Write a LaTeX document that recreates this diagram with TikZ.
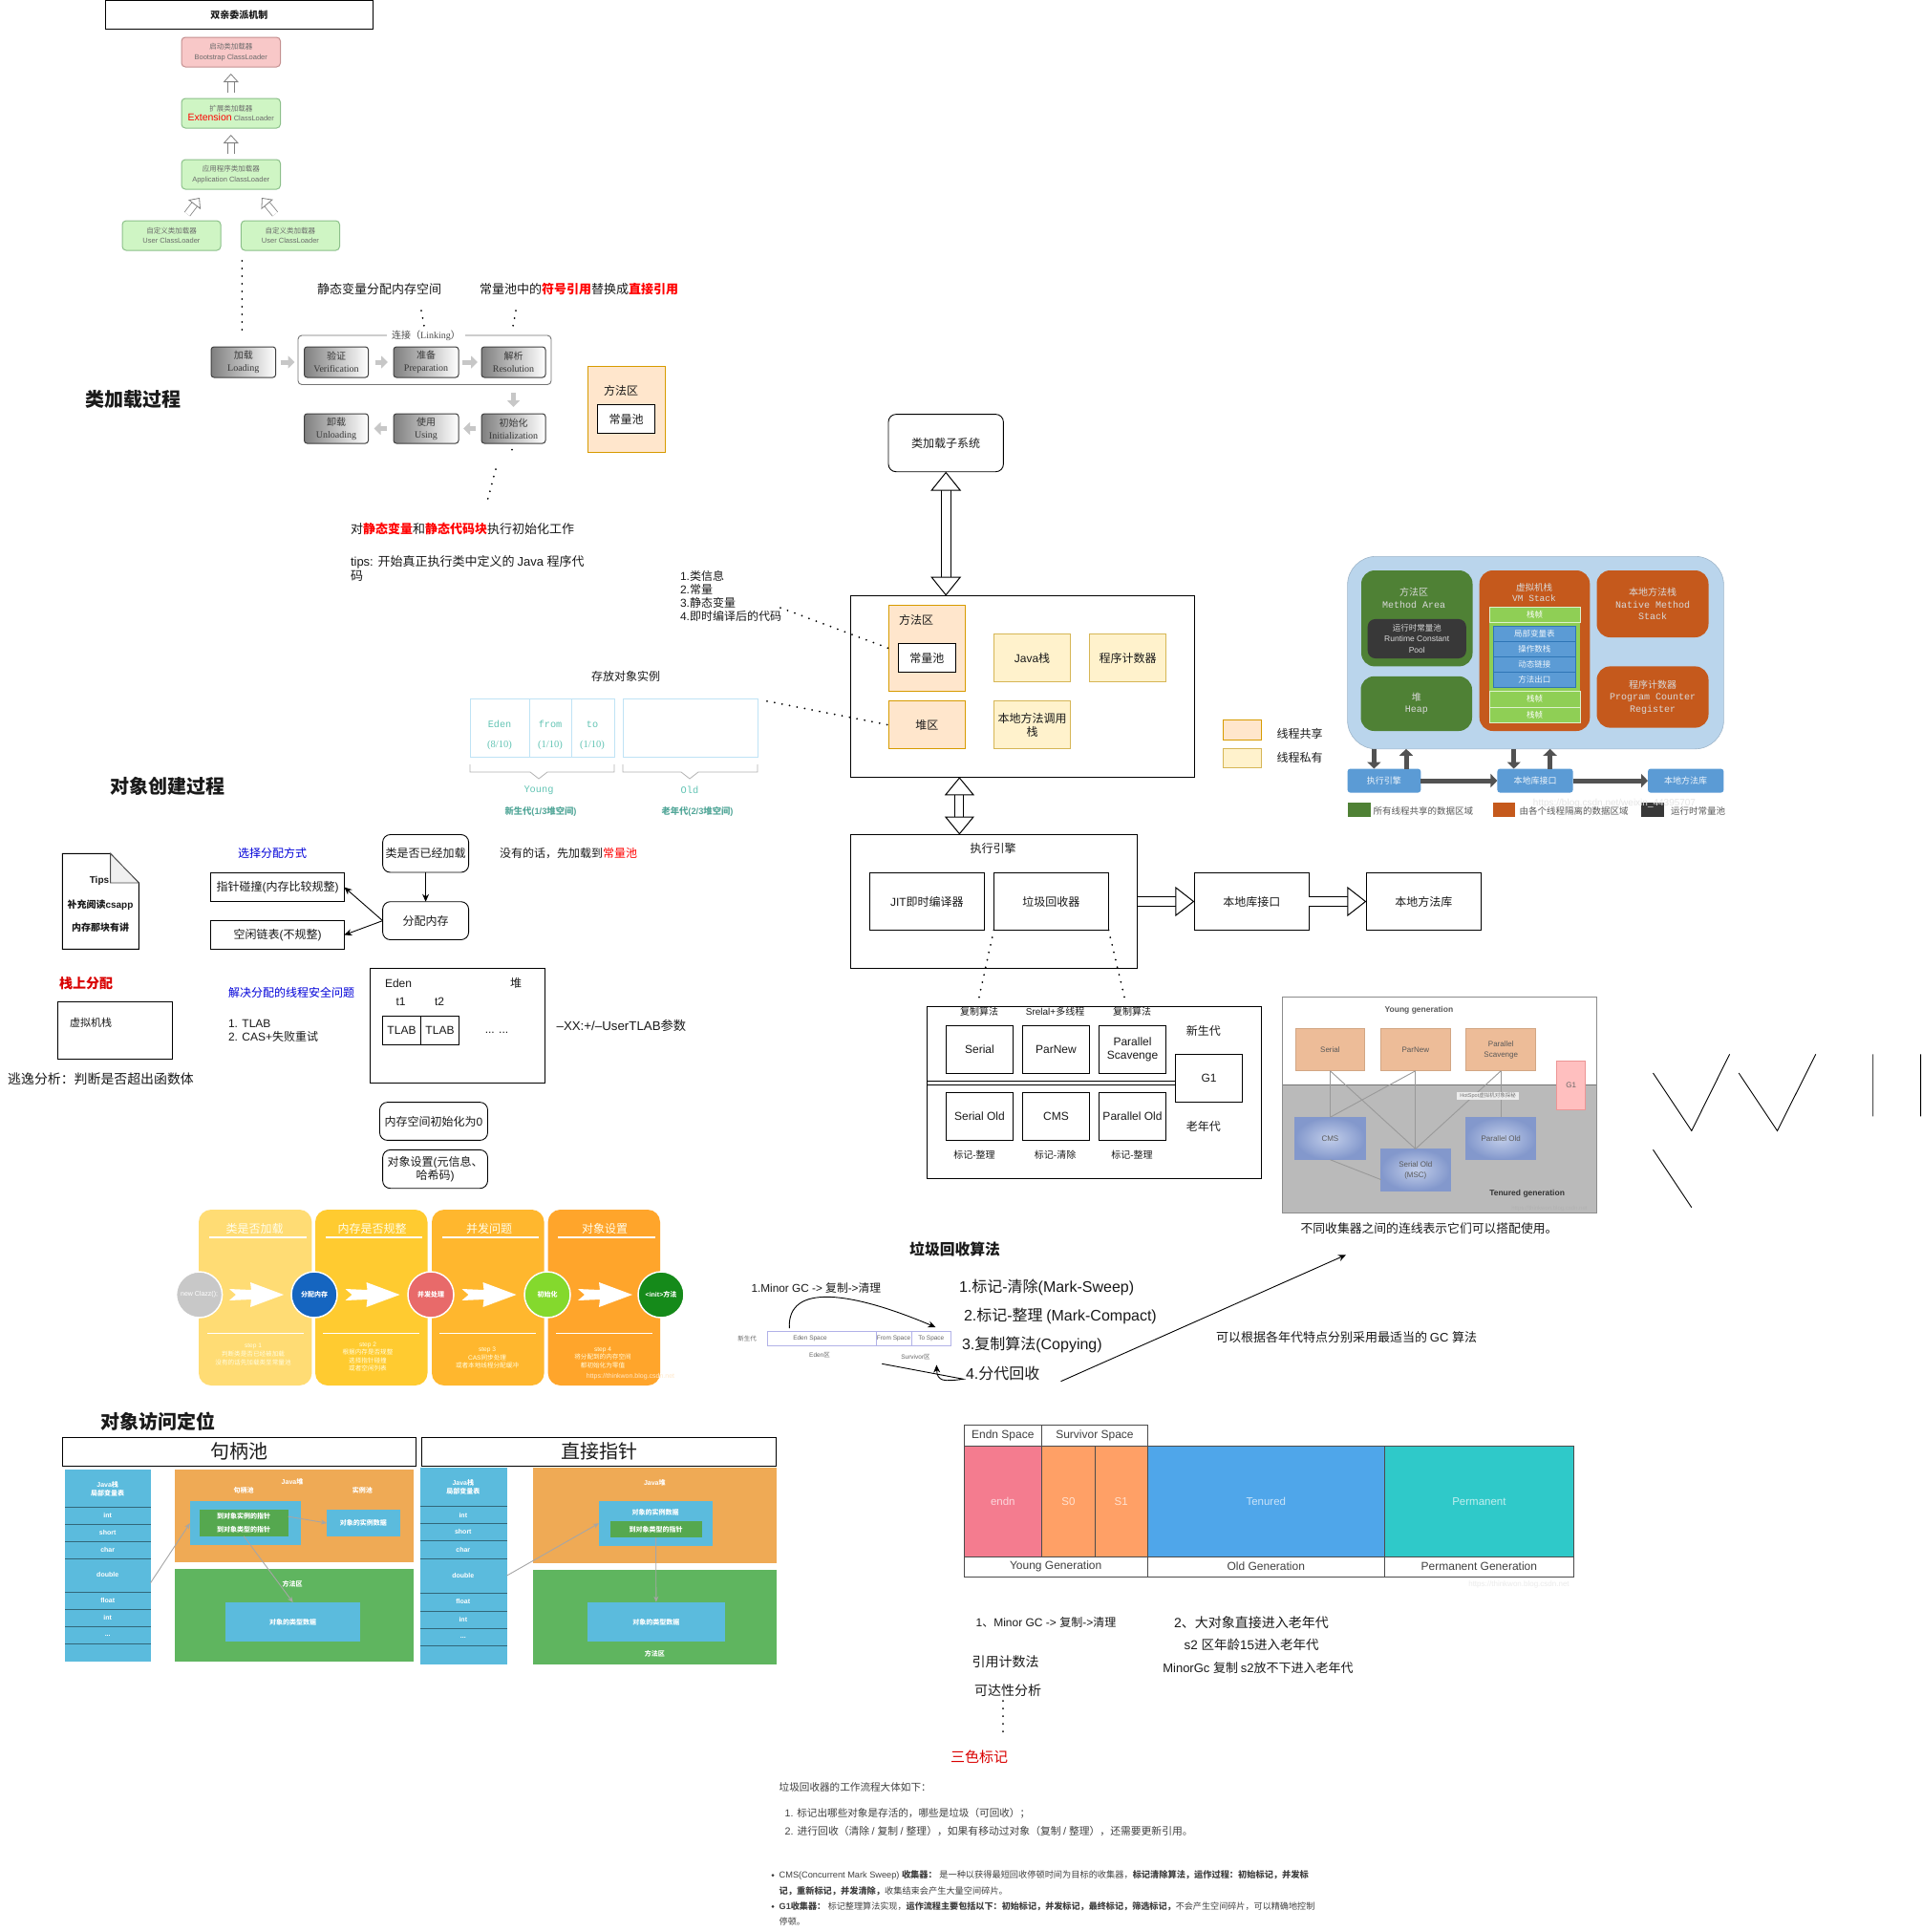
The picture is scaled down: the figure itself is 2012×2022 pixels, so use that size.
\documentclass[tikz,border=0pt]{standalone}
\usepackage{fontspec}
\usetikzlibrary{arrows.meta,shapes.geometric,calc}
\setmainfont{Liberation Sans}
\newfontfamily\cjk{Noto Sans CJK SC}
\newfontfamily\lserif{Liberation Serif}
\newfontfamily\lmono{Liberation Mono}
\def\latinfont{\rmfamily}
\newXeTeXintercharclass\cjkcl
\newcount\cc
\cc="4E00 \loop\XeTeXcharclass\cc=\cjkcl \ifnum\cc<"9FFF \advance\cc 1 \repeat
\cc="3000 \loop\XeTeXcharclass\cc=\cjkcl \ifnum\cc<"303F \advance\cc 1 \repeat
\cc="FF00 \loop\XeTeXcharclass\cc=\cjkcl \ifnum\cc<"FFEF \advance\cc 1 \repeat
\XeTeXinterchartoks 0 \cjkcl={\cjk}
\XeTeXinterchartoks 4095 \cjkcl={\cjk}
\XeTeXinterchartoks \cjkcl 0={\latinfont}
\XeTeXinterchartoks 4095 0={\latinfont}
\XeTeXinterchartokenstate=1
\newcommand\fs[2]{\fontsize{#1}{#2}\selectfont}
\newcommand\serifF{\def\latinfont{\lserif}\lserif}
\newcommand\monoF{\def\latinfont{\lmono}\lmono}
\definecolor{txt}{HTML}{1A1A1A}
\definecolor{shO}{HTML}{FFE6CC}\definecolor{shOd}{HTML}{D79B00}
\definecolor{shY}{HTML}{FFF2CC}\definecolor{shYd}{HTML}{D6B656}
\definecolor{teal1}{HTML}{62C4B4}\definecolor{lblue}{HTML}{BFE3F5}
\definecolor{jblue}{HTML}{BAD5EC}\definecolor{jgreen}{HTML}{4F8135}\definecolor{jor}{HTML}{C5591C}
\definecolor{jlg}{HTML}{8FCF55}\definecolor{jb}{HTML}{5B9BD5}\definecolor{jbd}{HTML}{2E75B6}
\definecolor{acb}{HTML}{5BBBDD}\definecolor{aco}{HTML}{EFAA55}\definecolor{acg}{HTML}{5FB55F}\definecolor{acg2}{HTML}{55A84F}
\definecolor{bootf}{HTML}{F8C8C8}\definecolor{bootd}{HTML}{C49090}
\definecolor{loadf}{HTML}{CFF5C4}\definecolor{loadd}{HTML}{8CC08A}
\definecolor{pa}{HTML}{FFDC74}\definecolor{pb}{HTML}{FFCB30}\definecolor{pc}{HTML}{FFB72E}\definecolor{pd}{HTML}{FFA52B}
\definecolor{horf}{HTML}{EDBC98}\definecolor{hord}{HTML}{D2A684}
\definecolor{hblf}{HTML}{C2CEEA}\definecolor{hbld}{HTML}{8398CC}
\definecolor{endn}{HTML}{F47C8F}\definecolor{surv}{HTML}{FFA066}\definecolor{ten}{HTML}{4FA6EA}\definecolor{perm}{HTML}{2FC9C9}
\definecolor{cgray}{HTML}{C8C8C8}\definecolor{cblue}{HTML}{1565C0}\definecolor{cred}{HTML}{E86A6A}\definecolor{cgreen}{HTML}{84D92D}\definecolor{cdark}{HTML}{158A1A}
\newcounter{tn}
\tikzset{
 lbl/.style={inner sep=0pt,outer sep=0pt,align=center,text=txt},
 box/.style={draw=black,line width=.9pt,fill=white,font=\fs{12}{14.5}},
 rbox/.style={box,rounded corners=8pt},
 oshare/.style={draw=shOd,fill=shO,line width=.9pt,font=\fs{12}{14.5}},
 yshare/.style={draw=shYd,fill=shY,line width=.9pt,font=\fs{12}{14.5}},
 gbox/.style={draw=black!75,line width=1pt,rounded corners=3pt,left color=black!50,right color=white,text=black!78,font=\serifF\fs{10}{13}},
 loadg/.style={draw=loadd,fill=loadf,line width=1pt,rounded corners=4pt,text=black!58,font=\fs{7.5}{10.5}},
 dotl/.style={draw=black,line width=2pt,dash pattern=on 0pt off 8pt,line cap=round},
 thin/.style={draw=black,line width=.9pt,-{Stealth[length=8pt,width=7pt]}},
 blkV/.style={draw=black,line width=1pt,double=white,double distance=9pt,{Triangle[open,fill=white,length=20pt,width=32pt,line width=1pt]}-{Triangle[open,fill=white,length=20pt,width=32pt,line width=1pt]}},
 blkH/.style={draw=black,line width=1pt,double=white,double distance=9pt,-{Triangle[open,fill=white,length=20pt,width=31pt,line width=1pt]}},
 lhol/.style={draw=black!50,line width=.8pt,double=white,double distance=6pt,-{Triangle[open,fill=white,length=9pt,width=16pt,line width=.8pt]}},
 garr/.style={draw=black!22,line width=5pt,-{Triangle[length=7pt,width=13pt]}},
 jarr/.style={draw=black!68,line width=5pt,-{Triangle[length=7pt,width=14pt]}},
 jtext/.style={text=white!85!black,font=\monoF\fs{10}{12.5}},
 jbox/.style={rounded corners=14pt},
 stk/.style={text=white,font=\bfseries\fs{7}{9}},
 acl/.style={draw=black!35,line width=.9pt,-{Stealth[length=6pt,width=5pt]}},
 hl/.style={draw=black!40,line width=.9pt},
 hor/.style={draw=hord,fill=horf,line width=1pt,font=\fs{8}{11},text=black!65},
 hbl/.style={draw=hbld,inner color=hblf,outer color=hbld,line width=1.5pt,font=\fs{8}{11},text=black!65},
 pip/.style={rounded corners=13pt},
 pipc/.style={circle,draw=white,line width=1.5pt,minimum size=48pt,text=white,font=\bfseries\fs{7}{9}},
 ptit/.style={text=white!92!yellow,font=\fs{12}{14}},
 pst/.style={text=white!88!yellow,font=\fs{6.6}{8.6}},
 gct/.style={draw=black!70,line width=1pt,text=black!75,font=\fs{12}{14}},
}
\newcommand\tx[4]{\stepcounter{tn}\node[lbl,#3] (t\thetn) at (#1,#2) {#4};}
\newcommand\bx[7]{\node[lbl,minimum width={(#4-#2)*1pt},minimum height={(#5-#3)*1pt},#6] (#1) at ({(#2+#4)/2},{(#3+#5)/2}) {#7};}
\newcommand\chev[1]{\fill[white,xshift=#1pt] (240,1349)--(263,1350)--(262,1342)--(297,1355)--(262,1368)--(263,1360)--(240,1361)--(247,1355)--cycle;}
\begin{document}
\begin{tikzpicture}[x=1pt,y=-1pt]
\fill[white] (0,0) rectangle (2012,2022);
\useasboundingbox (0,0) rectangle (2012,2022);
% ---------- parent delegation
\bx{dtitle}{110.5}{0.5}{390}{30}{box,font=\bfseries\fs{10}{12}}{双亲委派机制}
\bx{boot}{190}{39}{293.5}{70}{draw=bootd,fill=bootf,line width=1pt,rounded corners=4pt,text=black!58,font=\fs{7.5}{10.5}}{启动类加载器\\Bootstrap ClassLoader}
\bx{ext}{190}{103}{293.5}{134}{loadg}{扩展类加载器\\{\color{red}\fs{10.5}{10.5}Extension} ClassLoader}
\bx{app}{190}{167}{293.5}{198}{loadg}{应用程序类加载器\\Application ClassLoader}
\bx{user1}{128}{231}{231}{262}{loadg}{自定义类加载器\\User ClassLoader}
\bx{user2}{252.4}{231}{355.5}{262}{loadg}{自定义类加载器\\User ClassLoader}
\draw[lhol,shorten >=7pt,shorten <=6pt] (ext.north) -- (boot.south);
\draw[lhol,shorten >=7pt,shorten <=6pt] (app.north) -- (ext.south);
\coordinate (da1) at (196,224);\coordinate (da2) at (209,207);\coordinate (da3) at (288,224);\coordinate (da4) at (274,207);
\draw[lhol] (da1) -- (da2);\draw[lhol] (da3) -- (da4);
\coordinate (d1a) at (253.3,273);\coordinate (d1b) at (253.3,347);
\draw[dotl] (d1a) -- (d1b);
% ---------- class loading
\tx{397}{303}{font=\fs{13}{15}}{静态变量分配内存空间}
\tx{606}{303}{font=\fs{13}{15}}{常量池中的\textcolor{red}{\bfseries 符号引用}替换成\textcolor{red}{\bfseries 直接引用}}
\coordinate (d2a) at (441,325);\coordinate (d2b) at (444,342);\coordinate (d3a) at (540,325);\coordinate (d3b) at (537,342);
\draw[dotl] (d2a) -- (d2b);\draw[dotl] (d3a) -- (d3b);
\bx{linkp}{312}{351}{577}{402.5}{draw=black!55,line width=.9pt,rounded corners=4pt}{}
\tx{446}{351}{fill=white,inner xsep=5pt,text=black!70,font=\serifF\fs{10}{12}}{连接（Linking）}
\bx{cl1}{221}{363}{288.6}{395}{gbox}{加载\\Loading}
\bx{cl2}{318.5}{363}{385.5}{395}{gbox}{验证\\Verification}
\bx{cl3}{412}{363}{480}{395}{gbox}{准备\\Preparation}
\bx{cl4}{504}{363}{571}{395}{gbox}{解析\\Resolution}
\bx{cl5}{504}{433}{571}{464}{gbox}{初始化\\Initialization}
\bx{cl6}{412}{433}{480}{464}{gbox}{使用\\Using}
\bx{cl7}{318.5}{433}{385.5}{464}{gbox}{卸载\\Unloading}
\draw[garr,shorten <=5pt,shorten >=10pt] (cl1.east) -- (cl2.west);
\draw[garr,shorten <=7pt,shorten >=6pt] (cl2.east) -- (cl3.west);
\draw[garr,shorten <=4pt,shorten >=4pt] (cl3.east) -- (cl4.west);
\draw[garr,shorten <=16pt,shorten >=7pt] (cl4.south) -- (cl5.north);
\draw[garr,shorten <=6pt,shorten >=5pt] (cl5.west) -- (cl6.east);
\draw[garr,shorten <=7pt,shorten >=6pt] (cl6.west) -- (cl7.east);
\tx{139.5}{417.5}{font=\bfseries\fs{20}{24}}{类加载过程}
\bx{ma0}{615}{383}{696}{473.5}{oshare}{}
\tx{650}{408.5}{font=\fs{12}{14}}{方法区}
\bx{cp0}{625.6}{423.7}{685.4}{453.5}{box}{常量池}
\coordinate (d4a) at (536,470.6);\coordinate (d4b) at (519,491);\coordinate (d4c) at (510.5,523);
\fill (d4a) circle (1);
\draw[dotl] (d4b) -- (d4c);
\tx{367}{553}{anchor=west,font=\fs{13}{15}}{对\textcolor{red}{\bfseries 静态变量}和\textcolor{red}{\bfseries 静态代码块}执行初始化工作}
\tx{367}{595}{anchor=west,align=left,font=\fs{13}{15.5}}{tips: 开始真正执行类中定义的 Java 程序代\\码}
% ---------- object creation, heap
\tx{655}{708}{font=\fs{12}{14}}{存放对象实例}
\bx{hyoung}{492}{731}{643}{792.4}{draw=lblue,line width=1pt}{}
\bx{hold}{652}{731}{793}{792.4}{draw=lblue,line width=1pt}{}
\draw[lblue,line width=1pt] (554,731)--(554,792.4) (598,731)--(598,792.4);
\draw[black!30,line width=.8pt] (492,800)--(492,808)--(555,808)--(564,815)--(573,808)--(643,808)--(643,800);
\draw[black!30,line width=.8pt] (652,800)--(652,808)--(713,808)--(722,815)--(731,808)--(793,808)--(793,800);
\tx{523}{758}{text=teal1,font=\monoF\fs{10.2}{11}}{Eden}
\tx{576}{758}{text=teal1,font=\monoF\fs{10.2}{11}}{from}
\tx{620}{758}{text=teal1,font=\monoF\fs{10.2}{11}}{to}
\tx{523}{779.5}{text=teal1,font=\serifF\fs{10.5}{11}}{(8/10)}
\tx{576}{779.5}{text=teal1,font=\serifF\fs{10.5}{11}}{(1/10)}
\tx{620}{779.5}{text=teal1,font=\serifF\fs{10.5}{11}}{(1/10)}
\tx{564}{827}{text=teal1,font=\monoF\fs{10.3}{11}}{Young}
\tx{722}{827}{text=teal1,font=\monoF\fs{10.3}{11}}{Old}
\tx{566}{849}{text=teal1!85!black,font=\bfseries\fs{9.3}{11}}{新生代(1/3堆空间)}
\tx{730}{849}{text=teal1!85!black,font=\bfseries\fs{9.3}{11}}{老年代(2/3堆空间)}
\tx{175}{823}{font=\bfseries\fs{20}{24}}{对象创建过程}
% tips doc
\draw[black,line width=.9pt,fill=white] (65.4,893.4)--(115.6,893.4)--(145.4,924)--(145.4,993.4)--(65.4,993.4)--cycle;
\draw[black!70,fill=black!6,line width=.8pt] (115.6,893.4)--(115.6,924)--(145.4,924)--cycle;
\tx{104}{922}{font=\bfseries\fs{10}{12}}{Tips}
\tx{105}{947}{font=\bfseries\fs{10}{12}}{补充阅读csapp}
\tx{105}{970.5}{font=\bfseries\fs{10}{12}}{内存那块有讲}
\tx{285}{893.4}{text=blue!85!black,font=\fs{12}{14}}{选择分配方式}
\bx{cls}{400.6}{873.5}{490.6}{913}{rbox}{类是否已经加载}
\tx{595}{893.4}{font=\fs{12}{14}}{没有的话，先加载到\textcolor{red}{常量池}}
\bx{bump}{220.7}{913.3}{360.4}{943.7}{box}{指针碰撞(内存比较规整)}
\bx{free}{220.7}{963.6}{360.4}{993.4}{box}{空闲链表(不规整)}
\bx{alloc}{400.6}{943.7}{490.6}{983.5}{rbox}{分配内存}
\draw[thin] (cls.south) -- (alloc.north);
\draw[thin] (alloc.west) -- (bump.east);
\draw[thin] (alloc.west) -- (free.east);
\tx{90}{1029}{text=red!85!black,font=\bfseries\fs{14}{16}}{栈上分配}
\bx{vms}{60.7}{1048.7}{180.4}{1108.4}{box}{}
\tx{95}{1070}{font=\fs{11}{13}}{虚拟机栈}
\tx{105.5}{1129}{font=\fs{13.9}{15}}{逃逸分析：判断是否超出函数体}
\tx{305}{1038.7}{text=blue!85!black,font=\fs{12}{14}}{解决分配的线程安全问题}
\tx{239}{1078.5}{anchor=west,align=left,font=\fs{12}{14}}{1. TLAB\\2. CAS+失败重试}
\bx{eden}{387.5}{1013.3}{570.6}{1133.7}{box}{}
\tx{403}{1028.8}{anchor=west,font=\fs{12}{14}}{Eden}
\tx{540}{1028.8}{font=\fs{12}{14}}{堆}
\tx{419.5}{1048.7}{font=\fs{12}{14}}{t1}
\tx{460}{1048.7}{font=\fs{12}{14}}{t2}
\bx{tlab1}{400.6}{1063.6}{440.4}{1093.4}{box}{TLAB}
\bx{tlab2}{440.4}{1063.6}{480.6}{1093.4}{box}{TLAB}
\tx{520}{1080.5}{font=\fs{12}{14}}{... ...}
\tx{582.6}{1073}{anchor=west,font=\fs{13.3}{15}}{–XX:+/–UserTLAB参数}
\bx{minit}{397.5}{1153.6}{510.5}{1193.4}{rbox}{内存空间初始化为0}
\bx{oset}{400.6}{1203.4}{510.5}{1243.7}{rbox}{对象设置(元信息、\\哈希码)}
% ---------- pipeline
\bx{p1}{208}{1266}{326.4}{1450}{pip,fill=pa}{}
\bx{p2}{330}{1266}{447.5}{1450}{pip,fill=pb}{}
\bx{p3}{452}{1266}{569.6}{1450}{pip,fill=pc}{}
\bx{p4}{573.6}{1266}{691}{1450}{pip,fill=pd}{}
\tx{266.6}{1285.7}{ptit}{类是否加载}
\tx{389.5}{1285.7}{ptit}{内存是否规整}
\tx{512}{1285.7}{ptit}{并发问题}
\tx{633}{1285.7}{ptit}{对象设置}
\draw[white,line width=1.5pt] (219,1295)--(320.7,1295) (341,1295)--(442,1295) (463,1295)--(564,1295) (584,1295)--(686,1295);
\draw[white,line width=.9pt] (217,1395)--(317.5,1395) (338,1395)--(439,1395) (460,1395)--(561,1395) (582,1395)--(683,1395);
\chev{0}\chev{121.5}\chev{243.5}\chev{365}
\node[lbl,pipc,fill=cgray,font=\fs{7}{9}] (c0) at (208.6,1355) {new Clazz();};
\node[lbl,pipc,fill=cblue] (c1) at (329,1355) {分配内存};
\node[lbl,pipc,fill=cred] (c2) at (451,1355) {并发处理};
\node[lbl,pipc,fill=cgreen] (c3) at (573,1355) {初始化};
\node[lbl,pipc,fill=cdark] (c4) at (692,1355) {<init>方法};
\tx{265}{1417.5}{pst}{step 1\\判断类是否已经被加载\\没有的话先加载类至常量池}
\tx{385}{1420}{pst}{step 2\\根据内存是否规整\\选择指针碰撞\\或者空闲列表}
\tx{510}{1421}{pst}{step 3\\CAS同步处理\\或者本地线程分配缓冲}
\tx{631}{1421}{pst}{step 4\\将分配到的内存空间\\都初始化为零值}
\tx{660}{1441}{text=white!75!pd,font=\fs{7}{9}}{https://thinkwon.blog.csdn.net}
% ---------- object access
\tx{165}{1487.7}{font=\bfseries\fs{20}{24}}{对象访问定位}
\bx{hpool}{65.4}{1504.3}{435.6}{1534.3}{box,font=\fs{20}{24}}{句柄池}
\bx{dptr}{441.5}{1504.3}{812.7}{1534.3}{box,font=\fs{20}{24}}{直接指针}
\bx{ls}{68.4}{1538}{157.5}{1738.7}{fill=acb}{}
\draw[black!45!acb,line width=.9pt] (68.4,1577.3)--(157.5,1577.3) (68.4,1595)--(157.5,1595) (68.4,1613)--(157.5,1613) (68.4,1631)--(157.5,1631) (68.4,1666.3)--(157.5,1666.3) (68.4,1684)--(157.5,1684) (68.4,1702)--(157.5,1702) (68.4,1720)--(157.5,1720);
\tx{112.7}{1558}{stk}{Java栈\\局部变量表}
\tx{112.7}{1586.3}{stk}{int}\tx{112.7}{1603.7}{stk}{short}\tx{112.7}{1621.7}{stk}{char}\tx{112.7}{1647.7}{stk}{double}\tx{112.7}{1675}{stk}{float}\tx{112.7}{1693}{stk}{int}\tx{112.7}{1712}{stk}{...}
\bx{lo}{183.3}{1538.3}{433}{1635.3}{fill=aco}{}
\bx{lg}{183.3}{1642}{433}{1739}{fill=acg}{}
\tx{306}{1550.7}{stk}{Java堆}\tx{255}{1560}{stk}{句柄池}\tx{379.4}{1560}{stk}{实例池}
\bx{hb}{198.8}{1571}{315}{1617.3}{fill=acb}{}
\bx{g1}{208.7}{1580.3}{301.7}{1594}{fill=acg2,stk}{到对象实例的指针}
\bx{g2}{208.7}{1594.3}{301.7}{1607.7}{fill=acg2,stk}{到对象类型的指针}
\bx{il}{342}{1580.3}{418.7}{1607.7}{fill=acb,stk}{对象的实例数据}
\tx{306}{1657.7}{stk}{方法区}
\bx{ty}{236}{1677}{377.4}{1718}{fill=acb,stk}{对象的类型数据}
\coordinate (as1) at (157.5,1656.7);
\draw[acl] (as1) -- (hb.west);
\draw[acl] (g1.east) -- (il.west);
\draw[acl] (g2.south) -- (ty.north);
\bx{rs}{439.6}{1536}{530.6}{1741.7}{fill=acb}{}
\draw[black!45!acb,line width=.9pt] (439.6,1576)--(530.6,1576) (439.6,1594)--(530.6,1594) (439.6,1612.7)--(530.6,1612.7) (439.6,1631)--(530.6,1631) (439.6,1667.3)--(530.6,1667.3) (439.6,1686)--(530.6,1686) (439.6,1704.3)--(530.6,1704.3) (439.6,1722.3)--(530.6,1722.3);
\tx{484.8}{1556.2}{stk}{Java栈\\局部变量表}
\tx{484.8}{1585.7}{stk}{int}\tx{484.8}{1603.3}{stk}{short}\tx{484.8}{1622}{stk}{char}\tx{484.8}{1648.7}{stk}{double}\tx{484.8}{1676.3}{stk}{float}\tx{484.8}{1695}{stk}{int}\tx{484.8}{1714}{stk}{...}
\bx{ro}{558}{1536}{812.7}{1635.7}{fill=aco}{}
\bx{rg0}{558}{1642.7}{812.7}{1742}{fill=acg}{}
\tx{685.3}{1552.3}{stk}{Java堆}
\bx{rb}{627}{1570.7}{746}{1617.7}{fill=acb}{}
\tx{686}{1582.3}{stk}{对象的实例数据}
\bx{rg}{638.6}{1591.7}{734.6}{1609.3}{fill=acg2,stk}{到对象类型的指针}
\bx{rty}{614.7}{1676.7}{759}{1718.3}{fill=acb,stk}{对象的类型数据}
\tx{685.3}{1731}{stk}{方法区}
\coordinate (as2) at (530.6,1649);
\draw[acl] (as2) -- (rb.west);
\draw[acl] (rg.south) -- (rty.north);
% ---------- runtime data area
\bx{sub}{930}{433.6}{1050.4}{493.7}{rbox}{类加载子系统}
\bx{rt}{890.4}{623.5}{1250.7}{813.3}{box}{}
\draw[blkV] (sub.south) -- (sub.south |- rt.north);
\bx{ma}{930}{633.4}{1010.5}{723.4}{oshare}{}
\tx{959}{648.6}{font=\fs{12}{14}}{方法区}
\bx{cp}{940}{673.7}{1000.5}{703.5}{box}{常量池}
\bx{heap}{930}{733.8}{1010.5}{783.5}{oshare}{堆区}
\bx{jst}{1040.4}{663.7}{1120.6}{713.4}{yshare}{Java栈}
\bx{pcr}{1140.6}{663.7}{1220.4}{713.4}{yshare}{程序计数器}
\bx{nms}{1040.4}{733.8}{1120.6}{783.5}{yshare}{本地方法调用\\栈}
\tx{712}{624}{anchor=west,align=left,font=\fs{12}{14.1}}{1.类信息\\2.常量\\3.静态变量\\4.即时编译后的代码}
\coordinate (dm) at (817,636);\coordinate (dh) at (803,733.8);
\draw[dotl] (dm) -- (ma.west);
\draw[dotl] (dh) -- (heap.west);
\bx{lega}{1280}{753.7}{1320.5}{774}{oshare}{}
\bx{legb}{1280}{783.5}{1320.5}{803.4}{yshare}{}
\tx{1336.6}{768}{anchor=west,font=\fs{12}{14}}{线程共享}
\tx{1336.6}{793.4}{anchor=west,font=\fs{12}{14}}{线程私有}
\bx{exe}{890.4}{873.5}{1190.5}{1013.6}{box}{}
\draw[blkV,double distance=8pt,{Triangle[open,fill=white,length=19pt,width=31pt,line width=1pt]}-{Triangle[open,fill=white,length=19pt,width=31pt,line width=1pt]}] (rt.south -| 1004.4,0) -- (exe.north -| 1004.4,0);
\tx{1039.6}{888}{font=\fs{12}{14}}{执行引擎}
\bx{jit}{910.3}{913.7}{1030.4}{973.3}{box}{JIT即时编译器}
\bx{gcc}{1040.4}{913.7}{1160.5}{973.3}{box}{垃圾回收器}
\bx{nif}{1250.3}{913.7}{1370.4}{973.3}{box}{本地库接口}
\bx{nlb}{1430.3}{913.7}{1550.6}{973.3}{box}{本地方法库}
\draw[blkH] (exe.east |- nif.west) -- (nif.west);
\draw[blkH] (nif.east) -- (nlb.west);
\coordinate (dg1) at (1024,1047.6);\coordinate (dg2) at (1178,1047.6);
\draw[dotl] (gcc.south west) -- (dg1);
\draw[dotl] (gcc.south east) -- (dg2);
\bx{gcb}{970.6}{1053.4}{1320.6}{1233.8}{box}{}
\tx{1025}{1059}{font=\fs{10}{12}}{复制算法}\tx{1104.6}{1059}{font=\fs{10}{12}}{Srelal+多线程}\tx{1185}{1059}{font=\fs{10}{12}}{复制算法}
\bx{ser}{990.5}{1073.8}{1060.4}{1123.4}{box}{Serial}
\bx{pnw}{1070.3}{1073.8}{1140.6}{1123.4}{box}{ParNew}
\bx{psc}{1150.6}{1073.8}{1220.4}{1123.4}{box}{Parallel\\Scavenge}
\bx{sol}{990.5}{1143.8}{1060.4}{1193.5}{box}{Serial Old}
\bx{cms}{1070.3}{1143.8}{1140.6}{1193.5}{box}{CMS}
\bx{pol}{1150.6}{1143.8}{1220.4}{1193.5}{box}{Parallel Old}
\tx{1020}{1209}{font=\fs{10}{12}}{标记-整理}\tx{1104.6}{1209}{font=\fs{10}{12}}{标记-清除}\tx{1185}{1209}{font=\fs{10}{12}}{标记-整理}
\bx{g1b}{1230.4}{1103.6}{1300.6}{1153.8}{box}{G1}
\draw[black,line width=.9pt] (970.6,1131.8)--(1230.4,1131.8) (970.6,1135.5)--(1230.4,1135.5);
\tx{1259.8}{1078.5}{font=\fs{12}{14}}{新生代}
\tx{1259.8}{1179}{font=\fs{12}{14}}{老年代}
% ---------- JVM picture
\bx{jp}{1410.6}{582.3}{1804.4}{783.8}{fill=jblue,draw=jblue!85!black,line width=.6pt,rounded corners=30pt}{}
\bx{jma}{1425}{597}{1541.5}{697.4}{fill=jgreen,jbox}{}
\tx{1480}{626}{jtext}{方法区\\Method Area}
\bx{jpool}{1431.7}{647.9}{1534.8}{689}{fill=black!78,rounded corners=8pt,text=white!85!black,font=\fs{8.5}{11.6}}{运行时常量池\\Runtime Constant\\Pool}
\bx{jheap}{1424.5}{707.8}{1541}{765}{fill=jgreen,jbox,jtext}{堆\\Heap}
\bx{jvm}{1548.7}{597}{1664.3}{765}{fill=jor,jbox}{}
\tx{1606}{620}{jtext,font=\monoF\fs{9.5}{11.5}}{虚拟机栈\\VM Stack}
\bx{jf0}{1558.8}{651}{1654.2}{723.4}{fill=jlg}{}
\bx{jf1}{1558.8}{635}{1654.2}{651}{fill=jlg,draw=white!70!jlg,line width=.5pt,text=white,font=\fs{8.5}{10}}{栈帧}
\bx{jf2}{1558.8}{723.4}{1654.2}{740}{fill=jlg,draw=white!70!jlg,line width=.5pt,text=white,font=\fs{8.5}{10}}{栈帧}
\bx{jf3}{1558.8}{740}{1654.2}{756.4}{fill=jlg,draw=white!70!jlg,line width=.5pt,text=white,font=\fs{8.5}{10}}{栈帧}
\bx{jb1}{1563.6}{655.4}{1649}{671.5}{fill=jb,draw=jbd,line width=.7pt,text=white!90!jb,font=\fs{8.5}{10}}{局部变量表}
\bx{jb2}{1563.6}{671.5}{1649}{687.5}{fill=jb,draw=jbd,line width=.7pt,text=white!90!jb,font=\fs{8.5}{10}}{操作数栈}
\bx{jb3}{1563.6}{687.5}{1649}{703.5}{fill=jb,draw=jbd,line width=.7pt,text=white!90!jb,font=\fs{8.5}{10}}{动态链接}
\bx{jb4}{1563.6}{703.5}{1649}{719.6}{fill=jb,draw=jbd,line width=.7pt,text=white!90!jb,font=\fs{8.5}{10}}{方法出口}
\bx{jnm}{1671.5}{597}{1788.5}{667}{fill=jor,jbox,jtext}{本地方法栈\\Native Method\\Stack}
\bx{jpc}{1671.5}{697.4}{1788.5}{761.6}{fill=jor,jbox,jtext}{程序计数器\\Program Counter\\Register}
\bx{jx}{1410.6}{804.5}{1487.3}{829.6}{fill=jb,rounded corners=3pt,text=white!90!jb,font=\fs{9}{11}}{执行引擎}
\bx{jn}{1567.4}{804.5}{1646.6}{829.6}{fill=jb,rounded corners=3pt,text=white!90!jb,font=\fs{9}{11}}{本地库接口}
\bx{jl}{1725}{804.5}{1804.4}{829.6}{fill=jb,rounded corners=3pt,text=white!90!jb,font=\fs{9}{11}}{本地方法库}
\draw[jarr] (jx.east) -- (jn.west);
\draw[jarr] (jn.east) -- (jl.west);
\coordinate (v1) at (1438.4,783.8);\coordinate (v2) at (1438.4,804.5);\coordinate (v3) at (1472,804.5);\coordinate (v4) at (1472,783.8);
\coordinate (v5) at (1584.7,783.8);\coordinate (v6) at (1584.7,804.5);\coordinate (v7) at (1622.6,804.5);\coordinate (v8) at (1622.6,783.8);
\draw[jarr] (v1) -- (v2);\draw[jarr] (v3) -- (v4);\draw[jarr] (v5) -- (v6);\draw[jarr] (v7) -- (v8);
\bx{s1}{1410.6}{840.4}{1434.6}{855}{fill=jgreen}{}
\tx{1437.5}{848.4}{anchor=west,text=black!65,font=\fs{9.5}{11}}{所有线程共享的数据区域}
\bx{s2}{1562.6}{840.4}{1586}{855}{fill=jor}{}
\tx{1590.5}{848.4}{anchor=west,text=black!65,font=\fs{9.5}{11}}{由各个线程隔离的数据区域}
\bx{s3}{1717.5}{840.4}{1741.5}{855}{fill=black!78}{}
\tx{1749}{848.4}{anchor=west,text=black!65,font=\fs{9.5}{11}}{运行时常量池}
\tx{1690}{841}{text=black!10,font=\fs{10}{12}}{https://blog.csdn.net/weixin\_44395707}
% ---------- HotSpot picture
\bx{hsp}{1342.5}{1043.3}{1671.5}{1269}{fill=white,draw=black!45,line width=1pt}{}
\fill[black!27] (1343,1135) rectangle (1671,1268.5);
\draw[black!55,line width=.8pt] (1343,1135)--(1671,1135);
\tx{1485.4}{1057.5}{text=black!65,font=\bfseries\fs{8.5}{11}}{Young generation}
\bx{hS}{1356}{1076.4}{1428.8}{1120.7}{hor}{Serial}
\bx{hP}{1445.6}{1076.4}{1518}{1120.7}{hor}{ParNew}
\bx{hPS}{1534.8}{1076.4}{1607.7}{1120.7}{hor}{Parallel\\Scavenge}
\bx{hG}{1629.8}{1110.4}{1659.5}{1161.3}{fill=red!25!white,draw=red!40!white!85!gray,line width=1pt,font=\fs{8}{10},text=black!60}{G1}
\bx{hC}{1356}{1169.3}{1428.8}{1213.7}{hbl}{CMS}
\bx{hPO}{1534.8}{1169.3}{1607.7}{1213.7}{hbl}{Parallel Old}
\bx{hSO}{1445.6}{1202.4}{1518}{1246.7}{hbl}{Serial Old\\(MSC)}
\draw[hl] (hS.south) -- (hC.north);
\draw[hl] (hS.south) -- (hSO.north);
\draw[hl] (hP.south) -- (hC.north);
\draw[hl] (hP.south) -- (hSO.north);
\draw[hl] (hPS.south) -- (hPO.north);
\draw[hl] (hPS.south) -- (hSO.north);
\draw[hl] (hC.south) -- ([yshift=-10pt]hSO.west);
\bx{htag}{1525.2}{1143}{1590}{1150.5}{fill=white!85!gray,font=\fs{5.5}{7},text=black!55}{HotSpot虚拟机对象探秘}
\tx{1598.6}{1249.6}{text=black!80,font=\bfseries\fs{8.5}{11}}{Tenured generation}
\tx{1622}{1265}{text=white!70!black,font=\fs{6}{7}}{https://thinkwon.blog.csdn.net}
\tx{1496}{1285.4}{font=\fs{12.8}{15}}{不同收集器之间的连线表示它们可以搭配使用。}
% scribbles
\coordinate (w1) at (1730.5,1123);\coordinate (w2) at (1770.8,1183.5);\coordinate (w3) at (1810.6,1103.3);
\coordinate (w4) at (1820.2,1123);\coordinate (w5) at (1860.5,1183.5);\coordinate (w6) at (1900.8,1103.3);
\coordinate (w7) at (1960.7,1103.3);\coordinate (w8) at (1960.7,1168.4);\coordinate (w9) at (2010.6,1103.3);\coordinate (w10) at (2010.6,1168.4);
\coordinate (w11) at (1730.5,1203.3);\coordinate (w12) at (1770.8,1263.7);
\draw[black,line width=.9pt] (w1)--(w2)--(w3) (w4)--(w5)--(w6) (w7)--(w8) (w9)--(w10) (w11)--(w12);
% ---------- GC algorithms
\tx{999.6}{1307.3}{font=\bfseries\fs{15.8}{18}}{垃圾回收算法}
\tx{786.5}{1348.3}{anchor=west,font=\fs{11.8}{13}}{1.Minor GC -> 复制->清理}
\tx{1004}{1347.3}{anchor=west,font=\fs{16}{18}}{1.标记-清除(Mark-Sweep)}
\tx{1009}{1377.7}{anchor=west,font=\fs{16}{18}}{2.标记-整理 (Mark-Compact)}
\tx{1007}{1407.3}{anchor=west,font=\fs{16}{18}}{3.复制算法(Copying)}
\node[lbl,anchor=west,font=\fs{16}{18}] (gen4) at (1011,1437.3) {4.分代回收};
\tx{782}{1401}{text=black!60,font=\fs{6.5}{8}}{新生代}
\bx{nb}{803.9}{1393.3}{995.7}{1408.7}{draw=black!30!blue!30!white,line width=.9pt,text=black!60}{}
\draw[black!30!blue!30!white,line width=.9pt] (917,1393.3)--(917,1408.7) (954.4,1393.3)--(954.4,1408.7);
\tx{848}{1401.3}{text=black!60,font=\fs{6.5}{8}}{Eden Space}
\tx{935.5}{1401.3}{text=black!60,font=\fs{6.5}{8}}{From Space}
\tx{974.8}{1401.3}{text=black!60,font=\fs{6.5}{8}}{To Space}
\tx{858}{1418.3}{text=black!60,font=\fs{6.5}{8}}{Eden区}
\tx{958.5}{1420.3}{text=black!60,font=\fs{6.5}{8}}{Survivor区}
\coordinate (cv1) at (826.3,1390);\coordinate (cv2) at (979.4,1389);
\draw[thin] (cv1) .. controls (824,1342) and (892,1352) .. (cv2);
\coordinate (cv3) at (923.3,1427.3);\coordinate (cv4) at (1008.5,1443.3);\coordinate (cv5) at (980.4,1428.5);
\draw[thin] (cv3) -- (cv4) .. controls (988,1446) and (981,1446) .. (cv5);
\coordinate (la1) at (1110.5,1445.7);\coordinate (la2) at (1409,1313.3);
\draw[thin] (la1) -- (la2);
\tx{1409.5}{1399.3}{font=\fs{13}{15}}{可以根据各年代特点分别采用最适当的 GC 算法}
% ---------- generations
\bx{ge}{1009}{1491.7}{1090.6}{1513.3}{gct}{Endn Space}
\bx{gs}{1090.6}{1491.7}{1201.3}{1513.3}{gct}{Survivor Space}
\bx{g01}{1009}{1513.3}{1090.6}{1629}{fill=endn,draw=black!70,line width=1pt,text=white!70!endn,font=\fs{11.5}{14}}{endn}
\bx{g02}{1090.6}{1513.3}{1146.2}{1629}{fill=surv,draw=black!70,line width=1pt,text=white!70!surv,font=\fs{11.5}{14}}{S0}
\bx{g03}{1146.2}{1513.3}{1201.3}{1629}{fill=surv,draw=black!70,line width=1pt,text=white!70!surv,font=\fs{11.5}{14}}{S1}
\bx{g04}{1201.3}{1513.3}{1449.3}{1629}{fill=ten,draw=black!70,line width=1pt,text=white!70!ten,font=\fs{11.5}{14}}{Tenured}
\bx{g05}{1449.3}{1513.3}{1647.5}{1629}{fill=perm,draw=black!70,line width=1pt,text=white!70!perm,font=\fs{11.5}{14}}{Permanent}
\bx{gy}{1009}{1629}{1201.3}{1650.3}{gct}{Young Generation}
\bx{go}{1201.3}{1629}{1449.3}{1650.3}{gct}{Old Generation}
\bx{gp}{1449.3}{1629}{1647.5}{1650.3}{gct}{Permanent Generation}
\tx{1590}{1658}{text=black!8,font=\fs{8}{10}}{https://thinkwon.blog.csdn.net}
% ---------- notes
\tx{1095}{1698.3}{font=\fs{12}{14}}{1、Minor GC -> 复制->清理}
\tx{1310}{1698.3}{font=\fs{14}{16}}{2、大对象直接进入老年代}
\tx{1310}{1721.7}{font=\fs{13.5}{16}}{s2 区年龄15进入老年代}
\tx{1317}{1745.3}{font=\fs{13}{16}}{MinorGc 复制 s2放不下进入老年代}
\tx{1052.6}{1739}{font=\fs{14}{16}}{引用计数法}
\node[lbl,font=\fs{14}{16}] (reach) at (1055,1769) {可达性分析};
\node[lbl,text=red!85!black,font=\fs{15}{17}] (tri) at (1025,1838.3) {三色标记};
\coordinate (dd1) at (1050,1780);\coordinate (dd2) at (1050,1815);
\draw[dotl] (dd1) -- (dd2);
\tx{815.7}{1870}{anchor=west,text=black!75,font=\fs{10.6}{12}}{垃圾回收器的工作流程大体如下：}
\tx{821.6}{1897.3}{anchor=west,text=black!75,font=\fs{10.6}{12}}{1. 标记出哪些对象是存活的，哪些是垃圾（可回收）；}
\tx{821.6}{1916}{anchor=west,text=black!75,font=\fs{10.8}{12}}{2. 进行回收（清除 / 复制 / 整理），如果有移动过对象（复制 / 整理），还需要更新引用。}
\fill[black!80] (809,1962.7) circle (1.5) (809,1995.3) circle (1.5);
\tx{815.7}{1962.7}{anchor=west,text=black!75,font=\fs{9.2}{11}}{CMS(Concurrent Mark Sweep) {\bfseries 收集器：} 是一种以获得最短回收停顿时间为目标的收集器，{\bfseries 标记清除算法，运作过程：初始标记，并发标}}
\tx{815.7}{1979.3}{anchor=west,text=black!75,font=\fs{9.2}{11}}{{\bfseries 记，重新标记，并发清除，}收集结束会产生大量空间碎片。}
\tx{815.7}{1995.3}{anchor=west,text=black!75,font=\fs{9.1}{11}}{{\bfseries G1收集器：} 标记整理算法实现，{\bfseries 运作流程主要包括以下：初始标记，并发标记，最终标记，筛选标记，}不会产生空间碎片，可以精确地控制}
\tx{815.7}{2011.3}{anchor=west,text=black!75,font=\fs{9.1}{11}}{停顿。}
\end{tikzpicture}
\end{document}
